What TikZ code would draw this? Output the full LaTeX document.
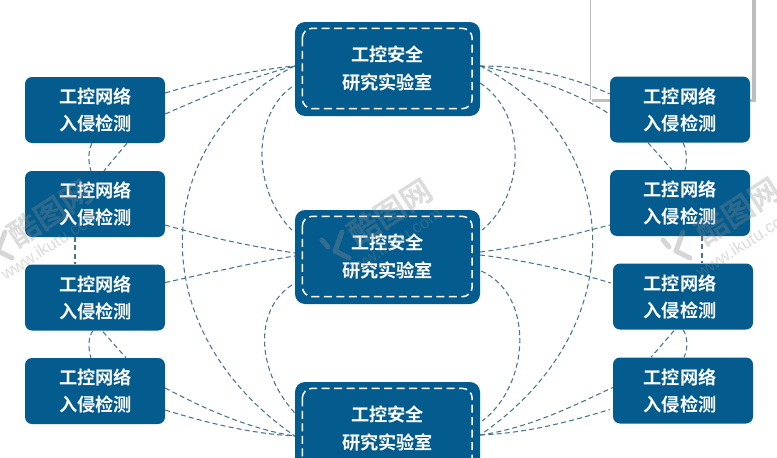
\documentclass[tikz,border=0pt]{standalone}
\usepackage{fontspec}
\setmainfont{Noto Sans CJK SC}[BoldFont={Noto Sans CJK SC Bold}]
\newfontfamily\boldcjk{Noto Sans CJK SC Bold}
\setsansfont{Liberation Sans}
\definecolor{boxblue}{HTML}{045C8E}
\definecolor{wire}{HTML}{4A7488}
\definecolor{wm}{HTML}{8C8C8C}
\definecolor{framegrey}{HTML}{BEBEBE}
\tikzset{
  smallbox/.style={fill=boxblue,draw=none,rounded corners=7pt,minimum width=140pt,minimum height=66pt,
    inner sep=0pt,text=white,font=\boldcjk\fontsize{18.2}{27}\selectfont,align=center},
  bigbox/.style={fill=boxblue,draw=none,rounded corners=10pt,minimum width=185pt,minimum height=94pt,
    inner sep=0pt,text=white,font=\boldcjk\fontsize{18.2}{28}\selectfont,align=center},
  innerdash/.style={draw=white,line width=1.5pt,dash pattern=on 8pt off 4.5pt,rounded corners=10pt},
  wire/.style={draw=wire,line width=1.05pt,dash pattern=on 5pt off 3.2pt},
  markbig/.style={text=wm,text opacity=.3,font=\boldcjk\fontsize{31}{31}\selectfont,rotate=33,inner sep=0pt},
  marksmall/.style={text=wm,text opacity=.3,font=\sffamily\fontsize{17}{17}\selectfont,rotate=33,inner sep=0pt},
  logostroke/.style={draw=wm,draw opacity=.35,line width=5pt,line cap=round,line join=round},
}
\begin{document}
\begin{tikzpicture}[x=1pt,y=-1pt]
\clip (0,0) rectangle (777,458);
\fill[white] (0,0) rectangle (777,458);
% sheet corner at the top right
\fill[framegrey] (592,0) rectangle (756,102);
\fill[white] (591,-1) rectangle (752,98.5);
\draw[framegrey,line width=0.7pt] (590.5,0) -- (590.5,99.5);
% nodes
\node[smallbox] (l1) at (95,110) {\hspace*{1pt}工控网络\\\hspace*{1pt}入侵检测};
\node[smallbox] (l2) at (95,204) {\hspace*{1pt}工控网络\\\hspace*{1pt}入侵检测};
\node[smallbox] (l3) at (95,297.5) {\hspace*{1pt}工控网络\\\hspace*{1pt}入侵检测};
\node[smallbox] (l4) at (95,391) {\hspace*{1pt}工控网络\\\hspace*{1pt}入侵检测};
\node[smallbox] (r1) at (680,109.5) {工控网络\\入侵检测};
\node[smallbox] (r2) at (680,203) {工控网络\\入侵检测};
\node[smallbox] (r3) at (683,296.5) {工控网络\hspace*{6pt}\\入侵检测\hspace*{6pt}};
\node[smallbox] (r4) at (683,390.5) {工控网络\hspace*{6pt}\\入侵检测\hspace*{6pt}};
\node[bigbox] (c1) at (387.5,69) {工控安全\\研究实验室};
\node[bigbox] (c2) at (387.5,257) {工控安全\\研究实验室};
\node[bigbox] (c3) at (387.5,429) {工控安全\\研究实验室};
% inner dashed frames
\foreach \n in {c1,c2,c3}
  \draw[innerdash] ([shift={(7.5,6.5)}]\n.north west) rectangle ([shift={(-8,-7.5)}]\n.south east);
% anchors on the large boxes
\coordinate (c1L) at ([yshift=3]c1.west);
\coordinate (c1R) at ([yshift=3]c1.east);
\coordinate (c1La) at ([xshift=-3,yshift=-18]c1.west);
\coordinate (c1Ra) at ([xshift=0,yshift=-14]c1.east);
\coordinate (c2Lu) at ([xshift=-3,yshift=27]c2.west);
\coordinate (c2Ru) at ([xshift=2,yshift=27]c2.east);
\coordinate (c2Ld) at ([xshift=-3,yshift=-28]c2.west);
\coordinate (c2Rd) at ([xshift=1,yshift=-14]c2.east);
\coordinate (c3Lu) at ([yshift=16]c3.west);
\coordinate (c3Ru) at ([xshift=2,yshift=8]c3.east);
\coordinate (c3L) at ([yshift=-7]c3.west);
\coordinate (c3R) at ([yshift=-6]c3.east);
% connectors, left
\draw[wire] ([yshift=17]l1.east) .. controls (215,78) and (255,70) .. (c1L);
\draw[wire] ([yshift=-4]l1.east) .. controls (215,92) and (255,76) .. (c1L);
\draw[wire] ([yshift=-21]l2.east) .. controls (210,238) and (255,247) .. ([yshift=4]c2.west);
\draw[wire] ([yshift=15]l3.east) .. controls (205,274) and (255,262) .. ([yshift=1]c2.west);
\draw[wire] ([yshift=3]l4.east) .. controls (210,412) and (255,430) .. (c3L);
\draw[wire] ([yshift=-19]l4.east) .. controls (210,424) and (255,434) .. (c3L);
\draw[wire] ([xshift=-3]l1.south) .. controls (88,151) and (88,162) .. ([xshift=-4]l2.north);
\draw[wire] ([xshift=32]l1.south) -- ([xshift=9]l2.north);
\draw[wire] ([xshift=-20]l2.south) -- ([xshift=-20]l3.north);
\draw[wire] ([xshift=-2]l3.south) .. controls (88,337) and (88,349) .. ([xshift=-4]l4.north);
\draw[wire] ([xshift=8,yshift=-1]l3.south) -- ([xshift=31]l4.north);
% connectors, right
\draw[wire] (c1R) .. controls (530,66) and (575,78) .. ([yshift=15.5]r1.west);
\draw[wire] (c1R) .. controls (530,76) and (575,92) .. ([xshift=-2,yshift=-3.5]r1.west);
\draw[wire] ([yshift=5]c2.east) .. controls (530,246) and (575,234) .. ([yshift=-22]r2.west);
\draw[wire] ([yshift=2]c2.east) .. controls (530,261) and (575,272) .. ([xshift=-2,yshift=13.5]r3.west);
\draw[wire] (c3R) .. controls (530,428) and (575,405) .. ([yshift=3]r4.west);
\draw[wire] (c3R) .. controls (530,433) and (575,420) .. ([xshift=-3,yshift=-19]r4.west);
\draw[wire] ([xshift=3]r1.south) .. controls (687,150) and (687,162) .. ([xshift=5]r2.north);
\draw[wire] ([xshift=-32]r1.south) -- ([xshift=-8]r2.north);
\draw[wire] ([xshift=22]r2.south) -- ([xshift=19]r3.north);
\draw[wire] (r3.south) .. controls (688,337) and (688,349) .. ([xshift=1]r4.north);
\draw[wire] ([xshift=-9,yshift=-1]r3.south) -- ([xshift=-32]r4.north);
% large arcs
\draw[wire] (c1L) .. controls (155,135) and (135,325) .. (c3L);
\draw[wire] (c1R) .. controls (620,135) and (640,325) .. (c3R);
\draw[wire] (c1La) .. controls (252,115) and (252,190) .. (c2Lu);
\draw[wire] (c1Ra) .. controls (528,115) and (525,195) .. (c2Ru);
\draw[wire] (c2Ld) .. controls (254,310) and (256,370) .. (c3Lu);
\draw[wire] (c2Rd) .. controls (535,295) and (530,385) .. (c3Ru);
% watermarks over everything
\node[markbig] (wa) at (50,213) {酷图网};
\node[marksmall] (wb) at (50,245) {www.ikutu.com};
\node[markbig] (wc) at (390,212) {酷图网};
\node[marksmall] (wd) at (392,243) {www.ikutu.com};
\node[markbig] (we) at (738,211) {酷图网};
\node[marksmall] (wf) at (745,243) {www.ikutu.com};
\foreach \dx in {-678,-341,0}
  \draw[logostroke,xshift=\dx] (663,240) -- (669,247) (683,232) -- (676,251) -- (690,258);
\end{tikzpicture}
\end{document}
